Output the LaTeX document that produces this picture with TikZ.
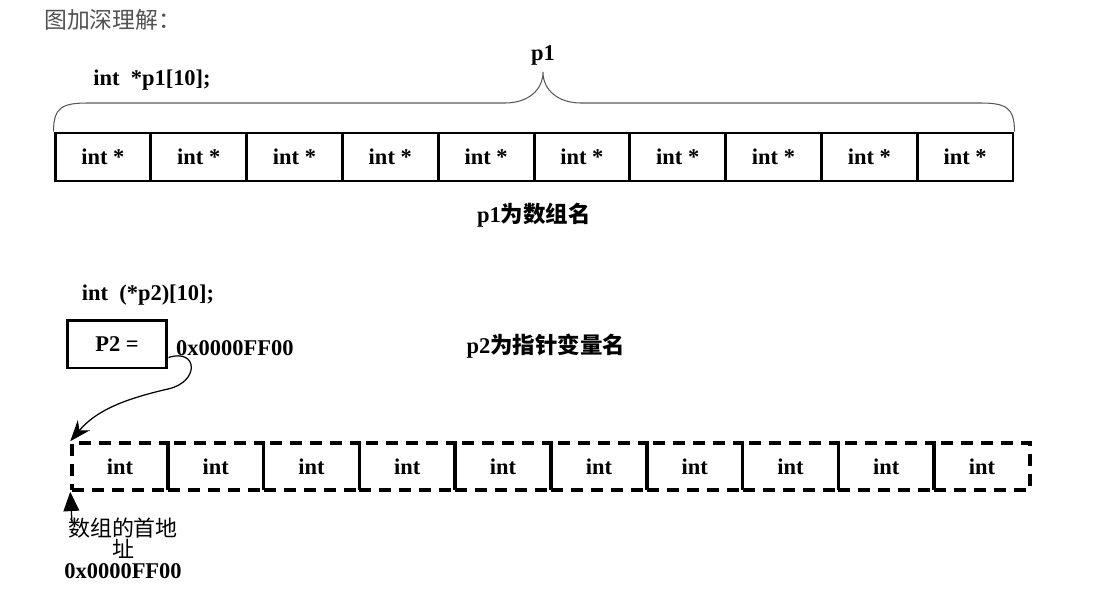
\documentclass[tikz,border=0pt]{standalone}
\usepackage{fontspec}
\setmainfont{Liberation Serif}
\newfontfamily\cjk{Noto Sans CJK SC}
\usepackage{tikz}
\usetikzlibrary{arrows.meta,calc}

\tikzset{
  code/.style={font=\fontsize{12.8}{15}\selectfont\bfseries},
  ptrcell/.style={draw,line width=1.7pt,minimum width=1.916cm,minimum height=0.96cm,inner sep=0pt,code},
  intcell/.style={draw,line width=2pt,dash pattern=on 0.24cm off 0.16cm,minimum width=1.916cm,minimum height=0.94cm,inner sep=0pt,code},
  cn/.style={font=\cjk\fontsize{12.5}{15}\selectfont}
}

\begin{document}
\begin{tikzpicture}[x=0.02cm,y=-0.02cm]
\useasboundingbox (0,0) rectangle (1110,612);

\node[anchor=west,text=black!68,font=\cjk\fontsize{13}{15}\selectfont] (title) at (38,20) {图加深理解：};

% array of pointers
\node[code] (decl1) at (152,80) {int\ \ *p1[10];};
\foreach \i in {0,...,9}
  \node[ptrcell] (a\i) at ({102.9+95.8*\i},157) {int *};
\draw[black!65,line width=0.6pt] (a0.north west) .. controls ($(a0.north west)+(0,-24)$) and (62,103) .. (88,103)
  -- (505,103) .. controls (528,103) and (543,90) .. (543,72)
  .. controls (543,90) and (558,103) .. (581,103)
  -- (980,103) .. controls (1006,103) and ($(a9.north east)+(0,-24)$) .. (a9.north east);
\node[code] (p1) at (543,55) {p1};
\node[code] (p1name) at (534,215) {p1{\cjk\bfseries 为数组名}};

% pointer to array
\node[code] (decl2) at (148,295) {int\ \ (*p2)[10];};
\node[draw,line width=1.7pt,minimum width=2cm,minimum height=0.96cm,code] (p2box) at (117,344) {P2 =};
\node[code,anchor=west] (addr) at (170,348) {0x0000FF00};
\node[code] (p2name) at (546,346) {p2{\cjk\bfseries 为指针变量名}};
\foreach \i in {0,...,9}
  \node[intcell] (b\i) at ({119.9+95.8*\i},466.5) {int};
\draw[line width=0.7pt,-{Stealth[length=12pt,width=9pt]}] (p2box.south east) ++(0,-12)
  .. controls (198,348) and (200,382) .. (168,389)
  .. controls (120,400) and (95,412) .. (b0.north west);
\coordinate (tail) at (72,522);
\draw[line width=0.7pt,-{Triangle[length=11pt,width=9pt]}] (tail) -- (b0.south west);
\node[cn] (first) at (123,528) {数组的首地};
\node[cn] (first2) at (123,549) {址};
\node[code] (addr2) at (123,571) {0x0000FF00};
\end{tikzpicture}
\end{document}
